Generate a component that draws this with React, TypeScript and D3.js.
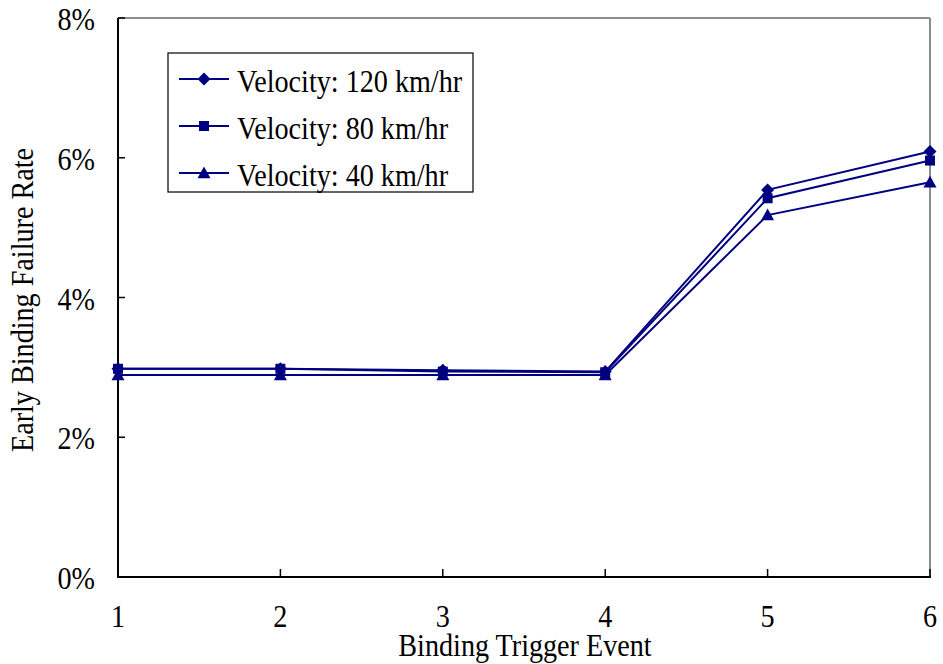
import React from "react";
import * as d3 from "d3";

// Binding trigger events on the x axis
const events = [1, 2, 3, 4, 5, 6];
// Early binding failure rate (%) per velocity
const v120 = [2.98, 2.98, 2.96, 2.94, 5.54, 6.09];
const v80 = [2.98, 2.98, 2.94, 2.93, 5.42, 5.96];
const v40 = [2.89, 2.89, 2.89, 2.89, 5.18, 5.65];
const yTicks = [0, 2, 4, 6, 8];
const seriesNames = ["Velocity: 120 km/hr", "Velocity: 80 km/hr", "Velocity: 40 km/hr"];

const W = 943;
const H = 664;
const M = { left: 118, right: 930, top: 18, bottom: 577 };
const NAVY = "#000080";
const FONT = "'Liberation Serif', 'DejaVu Serif', serif";
const FS = 32;
const SX = 0.88;

type Shape = "diamond" | "square" | "triangle";

// Tall, slightly condensed serif text
function Label({
  x,
  y,
  anchor = "start",
  rotate = 0,
  children,
}: {
  x: number;
  y: number;
  anchor?: "start" | "middle" | "end";
  rotate?: number;
  children: React.ReactNode;
}) {
  return (
    <g transform={`translate(${x},${y}) rotate(${rotate}) scale(${SX},1)`}>
      <text x={0} y={0} textAnchor={anchor} fontFamily={FONT} fontSize={FS} fill="#000">
        {children}
      </text>
    </g>
  );
}

function Marker({ x, y, shape }: { x: number; y: number; shape: Shape }) {
  if (shape === "diamond") {
    const s = 6.5;
    return <path d={`M${x},${y - s}L${x + s},${y}L${x},${y + s}L${x - s},${y}Z`} fill={NAVY} />;
  }
  if (shape === "square") {
    const s = 5;
    return <rect x={x - s} y={y - s} width={2 * s} height={2 * s} fill={NAVY} />;
  }
  const s = 6.5;
  return <path d={`M${x},${y - s}L${x + s},${y + s * 0.8}L${x - s},${y + s * 0.8}Z`} fill={NAVY} />;
}

export default function App() {
  const x = d3.scaleLinear().domain([1, 6]).range([M.left, M.right]);
  const y = d3.scaleLinear().domain([0, 8]).range([M.bottom, M.top]);
  const line = d3
    .line<number>()
    .x((_, i) => x(events[i]))
    .y((d) => y(d));

  const series: { values: number[]; shape: Shape }[] = [
    { values: v120, shape: "diamond" },
    { values: v80, shape: "square" },
    { values: v40, shape: "triangle" },
  ];

  return (
    <svg width={W} height={H} style={{ position: "absolute", left: 0, top: 0, background: "#fff" }}>
      <rect x={0} y={0} width={W} height={H} fill="#fff" />
      {/* frame: gray top and right */}
      <line x1={M.left} y1={M.top} x2={M.right} y2={M.top} stroke="#8c8c8c" strokeWidth={2} />
      <line x1={M.right} y1={M.top} x2={M.right} y2={M.bottom} stroke="#8c8c8c" strokeWidth={2} />
      {/* axes */}
      <line x1={M.left} y1={M.top} x2={M.left} y2={M.bottom + 1} stroke="#000" strokeWidth={2} />
      <line x1={M.left - 1} y1={M.bottom} x2={M.right + 1} y2={M.bottom} stroke="#000" strokeWidth={2} />
      {yTicks.map((t) => (
        <g key={t}>
          <line x1={M.left} x2={M.left + 7} y1={y(t)} y2={y(t)} stroke="#000" strokeWidth={1.5} />
          <Label x={95} y={y(t) + 12} anchor="end">
            {t}%
          </Label>
        </g>
      ))}
      {events.map((e) => (
        <g key={e}>
          <line x1={x(e)} x2={x(e)} y1={M.bottom} y2={M.bottom - 8} stroke="#000" strokeWidth={1.5} />
          <Label x={x(e)} y={627} anchor="middle">
            {e}
          </Label>
        </g>
      ))}
      <Label x={525} y={656} anchor="middle">
        Binding Trigger Event
      </Label>
      <Label x={33} y={300} anchor="middle" rotate={-90}>
        Early Binding Failure Rate
      </Label>

      {series.map((s, si) => (
        <g key={si}>
          <path d={line(s.values) ?? ""} fill="none" stroke={NAVY} strokeWidth={2} />
          {s.values.map((v, i) => (
            <Marker key={i} x={x(events[i])} y={y(v)} shape={s.shape} />
          ))}
        </g>
      ))}

      {/* legend */}
      <rect x={168} y={53} width={305} height={139} fill="#fff" stroke="#000" strokeWidth={1.2} />
      {series.map((s, i) => {
        const ly = 79 + i * 47;
        return (
          <g key={i}>
            <line x1={179} x2={229} y1={ly} y2={ly} stroke={NAVY} strokeWidth={2} />
            <Marker x={204} y={ly} shape={s.shape} />
            <Label x={237} y={ly + 13}>
              {seriesNames[i]}
            </Label>
          </g>
        );
      })}
    </svg>
  );
}
